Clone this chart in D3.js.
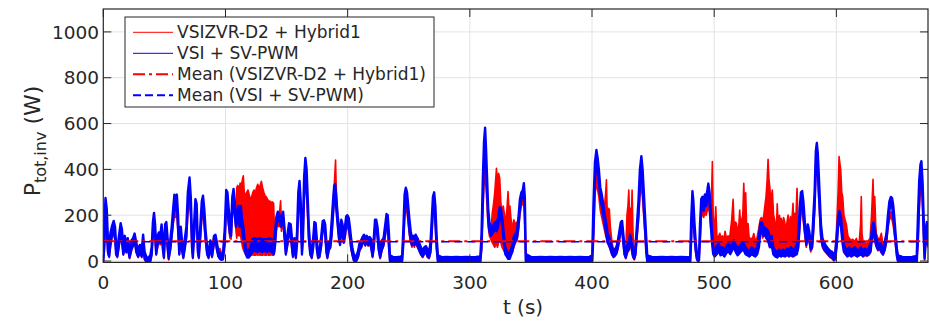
<!DOCTYPE html>
<html><head><meta charset="utf-8">
<script src="https://cdn.jsdelivr.net/npm/d3@7/dist/d3.min.js"></script>
<style>body{margin:0;background:#fff}svg{display:block}text{font-family:"DejaVu Sans",sans-serif;fill:#262626}</style>
</head><body><svg id="c" width="930" height="321"></svg>
<script>
// ---- data ----
const xTicks = [0,100,200,300,400,500,600];
const yTicks = [0,200,400,600,800,1000];
const seriesNames = ["VSIZVR-D2 + Hybrid1","VSI + SV-PWM","Mean (VSIZVR-D2 + Hybrid1)","Mean (VSI + SV-PWM)"];
const meanRed = 86, meanBlue = 84;
// [t (s), low envelope (W), high envelope (W)]
const blueSeries = [
[0,0,30],[0.8,60,150],[1.8,200,275],[2.8,150,230],[3.8,40,90],[4.8,20,60],[5.8,70,120],[7,110,150],[8.5,140,175],[9.6,100,150],[10.5,30,70],[11.5,20,50],[12.8,70,110],[14.2,130,165],[15.2,90,140],[16.4,30,60],[17.6,70,110],[18.8,40,70],[20,60,100],[21.5,15,40],[23,50,90],[24.4,70,100],[25.6,95,120],[27,40,80],[28.5,20,50],[30,40,70],[31.5,20,50],[32.6,85,115],[33.8,10,40],[35.5,-2,15],[37,-3,15],[38.5,0,25],[39.6,30,60],[40.6,120,170],[41.5,180,210],[42.4,110,160],[43.3,30,60],[44.4,70,110],[45.5,100,125],[46.6,80,110],[47.7,130,160],[48.8,50,90],[49.6,15,40],[50.6,120,160],[51.6,135,170],[52.6,60,100],[53.5,10,40],[54.8,50,90],[56,110,150],[57.2,180,230],[58.2,250,290],[59.2,220,270],[60.2,250,290],[61.2,140,200],[62.2,30,60],[63.4,110,150],[64.4,50,90],[65.5,15,40],[66.8,60,100],[68,110,150],[69.2,250,300],[70.6,320,365],[71.6,230,280],[72.6,60,110],[73.3,15,40],[74.4,120,170],[75.4,230,270],[76.4,200,250],[77.4,40,80],[78.2,15,40],[79.4,110,150],[80.6,220,260],[81.6,250,285],[82.6,180,230],[83.8,90,130],[85,30,60],[86.2,15,40],[87.6,60,90],[89,20,50],[90.6,80,110],[91.8,95,115],[93,50,80],[94.2,20,40],[95.4,10,35],[96.8,5,25],[98,10,35],[99.4,80,140],[100.6,260,310],[101.6,240,300],[102.6,170,230],[103.6,120,170],[104.6,110,150],[105.6,230,280],[106.6,280,315],[107.6,200,260],[108.6,150,190],[109.6,170,210],[110.6,200,240],[111.6,150,200],
[112.6,180,240],[113.6,130,180],[114.6,100,150],[115.6,60,100],[116.6,30,60],[117.8,15,40],[119,15,45],[120.5,25,60],[122,40,95],[124,45,100],[126,40,95],[128,45,100],[130,40,95],[132,45,95],[134,40,95],[136,45,100],[138,40,95],[139.6,30,80],[140.6,70,130],[141.6,150,190],[142.8,190,215],[144,180,205],[145.2,150,180],[146.4,170,200],[147.2,190,215],[148.2,110,150],[149.4,30,60],[150.6,70,110],[152,130,165],[153.4,120,160],[154.4,60,100],[155.2,20,45],[156.4,70,100],[157.6,15,40],[158.6,80,130],[159.6,250,300],[160.6,320,350],[161.6,200,260],[162.6,30,70],[163.4,100,160],[164.4,300,370],[165.4,410,450],[166.4,330,400],[167.2,240,290],[168.2,100,150],[169.4,30,60],[170.6,15,40],[171.8,60,100],[172.8,140,170],[173.8,130,165],[174.8,50,90],[175.8,15,35],[177,20,45],[178.4,70,110],[179.6,150,175],[180.6,155,178],[181.6,120,160],[182.6,40,80],[183.4,15,40],[184.6,50,80],[185.8,60,90],[187,120,180],[188,200,260],[189,290,330],[189.8,300,335],[190.8,220,270],[191.8,160,200],[192.8,100,150],[193.8,70,110],[194.8,140,180],[195.8,120,160],[196.8,80,110],[197.8,110,150],[198.8,160,195],[199.8,170,200],[200.8,150,190],[201.8,110,150],[202.8,60,100],[203.8,30,60],[205,5,30],[206.2,-2,20],[207.4,5,25],[208.6,20,45],[209.8,50,80],[211,60,90],[212.2,80,105],[213.4,95,115],[214.4,70,100],[215.6,90,110],[216.8,70,100],[218,85,105],[219.2,60,95],[220.4,20,45],[221.4,60,100],[222.4,140,180],[223.4,150,180],[224.4,110,150],[225.4,50,90],[226.6,15,40],[228,50,90],[229.4,70,100],[230.8,120,160],[231.8,170,205],[232.8,160,200],[233.8,60,120],[234.6,0,25],
[237,-2,18],[240,-3,17],[243,-2,19],[244.6,0,22],[245.6,80,140],[246.6,220,290],[247.6,290,320],[248.6,250,300],[249.6,190,240],[250.6,130,180],[251.6,90,130],[252.6,70,100],[253.6,85,110],[254.6,70,100],[255.6,90,115],[256.6,75,105],[257.6,60,95],[258.8,45,75],[260,30,60],[261.4,20,45],[262.8,35,60],[264,40,65],[265.4,20,50],[266.6,15,40],[267.8,40,80],[268.8,120,180],[269.8,240,280],[270.8,270,300],[271.8,170,240],[272.8,60,110],[273.8,0,25],
[277,-2,17],[281,-3,18],[285,-2,17],[289,-3,18],[293,-2,17],[297,-3,18],[301,-2,17],[305,-3,18],[308.6,-2,20],[309.6,60,120],[310.6,250,350],[311.6,450,520],[312.5,540,582],[313.2,420,500],[314,320,380],[315,180,230],[316,130,170],[317.2,110,145],[318.4,120,150],[319.6,130,160],[320.8,140,170],[322,130,170],[323.2,150,190],[324.4,200,235],[325.4,190,230],[326.6,150,185],[327.8,80,120],[329,30,60],[330.2,20,45],[331.4,10,35],[332.6,10,30],[333.6,25,50],[334.8,40,70],[336,70,110],[337.4,90,120],[338.6,100,130],[339.8,150,190],[341,230,270],[342.2,270,300],[343.4,280,310],[344.2,310,340],[345,200,280],[345.8,0,30],
[350,-2,18],[354,-3,17],[358,-2,18],[362,-3,17],[366,-2,18],[370,-3,17],[374,-2,18],[378,-3,17],[382,-2,18],[386,-3,17],[390,-2,18],[394,-3,17],[398,-2,18],[400.2,0,25],[401.2,120,250],[402.4,350,430],[403.6,440,485],[404.6,400,450],[405.6,350,400],[406.8,270,320],[408,240,290],[409.2,200,250],[410.4,160,200],[411.6,120,165],[412.8,80,120],[414,70,105],[415.2,50,85],[416.4,30,60],[417.6,20,45],[418.8,25,50],[420,35,60],[421.2,60,90],[422.4,100,130],[423.6,140,170],[424.6,145,175],[425.6,80,120],[426.6,30,60],[427.6,15,35],[428.8,40,70],[430,50,80],[431.2,90,115],[432.4,60,90],[433.6,20,45],[434.6,10,30],[435.6,30,60],[436.8,120,160],[438,200,260],[439.2,330,400],[440.4,420,458],[441.4,330,400],[442.4,230,300],[443.4,140,200],[444.4,40,100],[445.2,0,25],
[449,-2,18],[453,-3,17],[457,-2,18],[461,-3,17],[465,-2,18],[469,-3,17],[473,-2,18],[477,-3,17],[480.4,-2,18],[481.2,100,180],[482.2,270,305],[483,200,260],[483.8,120,170],[484.8,50,90],[485.8,10,35],[486.8,0,20],[487.6,5,30],[488.4,100,160],[489.4,230,270],[490.4,250,280],[491.4,220,260],[492.4,250,290],[493.4,240,280],[494.4,270,310],[495.2,300,338],[496.2,250,300],[497.2,160,220],[498.2,80,130],[499.2,30,60],[500.4,20,50],[502,30,65],[503.6,45,75],[505.2,25,55],[506.8,30,60],[508.4,20,50],[510,35,65],[511.6,45,75],[513.2,30,60],[514.8,50,80],[516.2,60,92],[517.6,40,70],[519.2,25,55],[520.8,35,65],[522.4,45,75],[524,50,80],[525.6,30,60],[527.2,25,50],[528.8,20,45],[530.4,30,60],[532,25,55],[533.6,20,45],[535.2,30,60],[536.6,60,110],[537.8,130,165],[539,140,170],[540.2,110,150],[541.4,120,145],[542.8,100,140],[544.2,90,130],[545.6,60,100],[547,70,110],[548.4,30,60],[550,20,45],[551.6,15,40],[553.2,25,50],[554.8,20,45],[556.4,25,50],[558,20,45],[559.6,30,55],[561.2,20,50],[562.8,30,60],[564.4,20,50],[566,25,55],[567.6,30,70],[568.8,60,110],[570,160,230],[571,260,300],[572,270,305],[573,200,260],[574.2,130,170],[575.4,70,100],[576.6,130,160],[577.8,100,130],[579,50,80],[580.2,60,100],[581.2,140,200],[582.2,240,300],[583.2,400,480],[584,470,515],[584.8,400,470],[585.6,300,380],[586.4,220,280],[587.4,110,160],[588.6,70,100],[590,50,80],[591.6,40,65],[593.2,30,55],[594.8,20,45],[596.4,15,40],[598,5,30],[599,10,35],[600.2,60,100],[601.4,150,190],[602.6,185,218],[603.8,150,190],[605,80,120],[606.2,40,70],[607.6,30,55],[609,20,50],[610.6,30,60],[612.2,20,45],[613.8,25,55],[615.4,30,60],[617,20,45],[618.6,25,50],[620.2,30,60],[621.8,20,45],[623.4,30,55],[625,25,50],[626.6,30,55],[628,40,80],[629.4,120,150],[630.4,140,168],[631.4,100,140],[632.6,70,100],[634,50,85],[635.4,60,90],[636.8,40,70],[638.2,30,55],[639.6,50,80],[641,90,120],[642.2,160,200],[643.4,220,260],[644.6,250,280],[645.6,240,275],[646.6,190,240],[647.6,140,180],[648.6,70,110],[649.6,20,50],[650.4,0,25],
[654,-2,18],[658,-3,17],[662,-2,18],[665.8,-2,22],[666.8,100,200],[667.8,270,350],[668.8,380,420],[669.6,400,436],[670.6,280,340],[671.4,120,200],[672.2,10,40],[673.2,90,140],[674,140,170],[675,70,110]
];
const redSeries = [
[0,-5,20],[0.8,50,120],[1.8,170,230],[2.8,120,190],[3.8,30,80],[4.8,15,50],[5.8,60,100],[7,100,130],[8.5,120,150],[9.6,90,130],[10.5,25,60],[11.5,15,45],[12.8,60,95],[14.2,110,140],[15.2,80,120],[16.4,25,55],[17.6,60,95],[18.8,35,65],[20,55,90],[21.5,10,35],[23,45,80],[24.4,65,95],[25.6,85,110],[27,35,70],[28.5,15,45],[30,35,65],[31.5,15,45],[32.6,75,100],[33.8,5,35],[35.5,-10,10],[37,-10,10],[38.5,-5,20],[39.6,25,55],[40.6,100,150],[41.5,150,185],[42.4,90,140],[43.3,25,55],[44.4,60,100],[45.5,90,115],[46.6,70,100],[47.7,110,140],[48.8,45,80],[49.6,10,35],[50.6,100,140],[51.6,115,150],[52.6,50,90],[53.5,5,35],[54.8,45,80],[56,100,135],[57.2,160,200],[58.2,200,230],[59.2,190,225],[60.2,200,230],[61.2,120,170],[62.2,25,55],[63.4,95,130],[64.4,45,80],[65.5,10,35],[66.8,55,90],[68,95,130],[69.2,200,250],[70.6,260,300],[71.6,190,240],[72.6,50,100],[73.3,10,35],[74.4,100,150],[75.4,190,230],[76.4,170,210],[77.4,35,70],[78.2,10,35],[79.4,95,130],[80.6,180,220],[81.6,210,240],[82.6,150,200],[83.8,80,115],[85,25,55],[86.2,10,35],[87.6,55,85],[89,15,45],[90.6,70,100],[91.8,85,105],[93,45,75],[94.2,20,45],[95.4,30,55],[96.8,10,35],[98,5,30],[99.4,70,120],[100.6,220,270],[101.6,200,260],[102.6,150,200],[103.6,100,150],[104.6,95,130],[105.6,200,250],[106.6,250,290],[107.6,190,240],[108.6,130,180],
[109.2,100,320],[110,120,330],[111,110,310],[112,120,340],[113,90,330],[114,60,360],[114.6,50,372],[115.4,40,300],[116.4,30,285],[117.4,25,300],[118.4,25,310],[119.4,25,290],[120.4,25,270],[121.4,25,280],[122.4,28,300],[123.4,25,310],[124.4,25,295],[125.4,28,320],[126.4,25,335],[127.4,28,320],[128.4,25,330],[129.4,25,348],[130.4,25,320],[131.4,28,300],[132.4,25,285],[133.4,25,280],[134.4,28,270],[135.4,25,260],[136.4,25,262],[137.4,28,255],[138.4,25,258],[139.4,25,252],[140.2,40,120],[141.2,120,170],[142.4,160,200],[143.6,150,195],[144.6,160,230],[145.1,200,263],[145.8,130,170],[146.8,150,190],[147.6,150,190],[148.4,90,130],[149.4,25,55],[150.6,60,100],[152,110,150],[153.4,100,145],[154.4,50,90],[155.2,15,40],[156.4,60,95],[157.6,10,35],[158.6,70,115],[159.6,210,260],[160.6,270,310],[161.6,170,230],[162.6,25,60],[163.4,90,140],[164.4,260,320],[165.4,340,390],[166.4,290,350],[167.2,200,250],[168.2,90,140],[169.4,25,55],[170.6,10,35],[171.8,55,90],[172.8,120,150],[173.8,110,145],[174.8,45,85],[175.8,10,30],[177,15,40],[178.4,60,100],[179.6,130,160],[180.6,135,165],[181.6,100,145],[182.6,35,75],[183.4,10,35],[184.6,45,75],[185.8,55,85],[187,110,170],[188,190,250],[189,260,330],[189.7,330,400],[190.1,380,441],[190.6,250,330],[191.4,180,230],[192.4,120,160],[193.4,80,120],[194.6,120,160],[195.8,100,140],[196.9,90,140],[197.8,100,135],[198.8,140,175],[199.8,150,180],[200.8,130,170],[201.8,95,135],[202.8,50,90],[203.8,25,55],[205,0,25],[206.2,-8,15],[207.4,0,20],[208.6,15,40],[209.8,45,75],[211,55,85],[212.2,70,100],[213.4,85,110],[214.4,65,95],[215.6,80,105],[216.8,65,95],[218,75,100],[219.2,55,90],[220.4,15,40],[221.4,55,95],[222.4,125,165],[223.4,135,165],[224.4,100,140],[225.4,45,85],[226.6,10,35],[228,45,85],[229.4,65,95],[230.8,110,150],[231.8,150,185],[232.8,140,180],[233.8,50,110],[234.6,-5,20],
[237,-8,14],[240,-9,13],[243,-8,14],[244.6,-5,18],[245.6,70,120],[246.6,180,240],[247.6,240,270],[248.6,210,250],[249.6,160,200],[250.6,110,160],[251.6,80,120],[252.6,60,95],[253.6,75,100],[254.6,60,95],[255.6,80,105],[256.6,65,100],[257.6,55,90],[258.8,40,70],[260,25,55],[261.4,15,40],[262.8,30,55],[264,35,60],[265.4,15,45],[266.6,10,35],[267.8,35,75],[268.8,100,160],[269.8,200,240],[270.8,230,260],[271.8,150,210],[272.8,50,100],[273.8,-5,20],
[277,-8,14],[281,-9,13],[285,-8,14],[289,-9,13],[293,-8,14],[297,-9,13],[301,-8,14],[305,-9,13],[308.6,-8,16],[309.6,50,100],[310.6,200,290],[311.6,330,390],[312.5,370,412],[313.2,320,380],[314,250,300],[315,150,200],[316,110,150],[317.2,95,130],[318.4,80,210],[319.4,70,250],[320.4,60,300],[321.2,70,360],[321.8,80,405],[322.6,60,330],[323.5,80,383],[324.5,100,360],[325.4,80,250],[326.4,60,220],[327.4,50,240],[328.4,40,200],[329.4,30,170],[330.4,25,230],[331.3,20,303],[332.2,20,200],[332.8,25,240],[333.8,30,180],[334.8,40,140],[336,60,180],[337.4,80,160],[338.6,90,170],[339.8,130,180],[341,200,250],[342.2,240,280],[343.4,250,290],[344.2,270,310],[345,150,250],[345.8,-5,20],
[350,-8,14],[354,-9,13],[358,-8,14],[362,-9,13],[366,-8,14],[370,-9,13],[374,-8,14],[378,-9,13],[382,-8,14],[386,-9,13],[390,-8,14],[394,-9,13],[398,-8,14],[400.2,-5,20],[401.2,100,220],[402.4,290,360],[403.6,340,380],[404.6,310,350],[405.6,280,320],[406.8,220,270],[408,190,240],[409.2,160,210],[410.4,130,250],[411.2,110,300],[411.8,100,354],[412.6,80,180],[413.4,70,230],[414.2,60,225],[415,50,150],[416.4,25,80],[417.6,15,50],[418.8,20,55],[420,30,65],[421.2,50,90],[422.4,90,125],[423.6,125,160],[424.6,130,165],[425.6,70,110],[426.6,25,55],[427.6,10,40],[428.6,30,200],[429.4,40,240],[430.1,45,310],[430.8,60,200],[431.6,70,230],[432.2,50,180],[432.8,30,310],[433.6,15,120],[434.6,5,40],[435.6,25,60],[436.8,100,150],[438,170,230],[439.2,280,340],[440.4,330,370],[441.4,270,330],[442.4,190,250],[443.4,110,170],[444.4,30,90],[445.2,-5,20],
[449,-8,14],[453,-9,13],[457,-8,14],[461,-9,13],[465,-8,14],[469,-9,13],[473,-8,14],[477,-9,13],[480.4,-8,14],[481.2,80,160],[482.2,220,270],[483,170,220],[483.8,100,150],[484.8,40,80],[485.8,5,30],[486.8,-5,15],[487.6,0,25],[488.4,80,140],[489.4,190,230],[490.4,210,240],[491.4,190,230],[492.4,210,250],[493.4,200,240],[494.4,220,260],[495.2,240,280],[496.2,210,250],[497.2,140,200],[497.9,150,300],[498.5,180,434],[499.2,40,200],[500.2,25,120],[501.3,25,237],[502.2,30,110],[503.4,40,106],[504.6,30,121],[505.6,30,100],[506.6,35,110],[507.8,25,95],[508.9,30,130],[510,35,100],[511.4,40,110],[512.6,35,100],[514.3,40,179],[515.5,50,269],[516.4,55,140],[517.4,45,170],[518.2,35,164],[519.2,30,120],[520.2,35,160],[520.9,40,223],[521.8,45,140],[522.6,45,180],[523.4,50,200],[524.2,50,339],[525,45,220],[525.8,40,298],[526.6,30,140],[527.7,30,164],[528.8,20,90],[530,30,100],[531.2,25,95],[532.4,25,120],[533.6,20,90],[535,30,100],[536.4,60,140],[537.6,120,180],[538.6,130,190],[539.6,100,170],[540.6,110,200],[541.4,110,237],[542.4,100,280],[543.3,90,350],[544.1,90,444],[544.8,70,360],[545.5,60,325],[546.4,60,260],[547.6,60,310],[548.6,30,200],[549.5,25,180],[550.9,20,135],[551.6,20,250],[552.3,20,158],[553.4,25,200],[554.2,20,170],[555,20,186],[556,25,140],[556.8,20,190],[557.7,25,172],[558.6,20,130],[559.6,25,170],[560.5,25,201],[561.4,20,140],[562.4,25,194],[563.4,20,160],[564.5,25,252],[565.2,20,150],[565.9,25,208],[566.8,30,180],[567.8,40,317],[568.8,50,150],[569.5,100,150],[570,140,200],[571,210,250],[572,220,255],[573,170,220],[574.2,110,150],[575.4,60,90],[576.6,110,140],[577.8,85,115],[579,40,70],[580.2,55,90],[581.2,120,180],[582.2,220,280],[583.2,380,460],[584,460,517],[584.8,380,450],[585.6,270,350],[586.4,190,250],[587.4,95,140],[588.6,60,90],[590,45,75],[591.6,35,60],[593.2,25,50],[594.8,15,40],[596.4,10,35],[598,0,25],[599,5,30],[600.2,60,150],[601.4,150,300],[602.2,180,456],[602.8,170,430],[603.6,150,397],[604.4,120,300],[605.2,80,281],[606.2,40,200],[607.2,30,179],[608.2,25,160],[609.4,20,110],[610.6,25,100],[612,20,90],[613.4,25,95],[614.8,25,85],[616.4,20,99],[617.6,20,70],[618.8,25,90],[619.8,25,160],[620.4,30,281],[621,25,120],[622.2,20,70],[623.6,25,80],[625,20,75],[626.4,25,90],[627.6,35,100],[628.8,80,200],[630,110,357],[630.8,100,200],[631.4,90,281],[632.2,70,160],[632.7,60,121],[634,45,100],[635.4,50,95],[636.8,35,121],[638.2,25,70],[639.6,45,90],[641,80,120],[642.2,140,180],[643.4,180,210],[644.6,190,215],[645.6,180,210],[646.6,150,200],[647.6,110,150],[648.6,60,100],[649.6,15,45],[650.4,-5,20],
[654,-8,14],[658,-9,13],[662,-8,14],[665.8,-8,18],[666.8,80,170],[667.8,220,290],[668.8,300,350],[669.6,330,370],[670.6,230,290],[671.4,100,170],[672.2,5,35],[673.2,80,130],[674,120,150],[675,60,100]
];

// ---- drawing ----
const svg = d3.select("#c");
const L = 103.3, R = 928, T = 9, B = 262.4;
const x = d3.scaleLinear().domain([0, 675]).range([L, R]);
const y = d3.scaleLinear().domain([-6, 1100]).range([B, T]);
const RED = "#ff0000", BLUE = "#0000ff", AX = "#262626";

svg.append("defs").append("clipPath").attr("id","clip")
  .append("rect").attr("x",L).attr("y",T).attr("width",R-L).attr("height",B-T);

// grid
const g = svg.append("g");
g.selectAll(".gx").data(xTicks.filter(d=>d>0)).join("line")
  .attr("x1",d=>x(d)).attr("x2",d=>x(d)).attr("y1",T).attr("y2",B)
  .attr("stroke","#e3e3e3").attr("stroke-width",1);
g.selectAll(".gy").data(yTicks).join("line")
  .attr("x1",L).attr("x2",R).attr("y1",d=>y(d)).attr("y2",d=>y(d))
  .attr("stroke","#e3e3e3").attr("stroke-width",1);

const area = d3.area().x(d=>x(d[0])).y0(d=>y(d[1])).y1(d=>y(d[2]));
const plot = svg.append("g").attr("clip-path","url(#clip)");
plot.append("path").attr("d",area(redSeries)).attr("fill",RED)
  .attr("stroke",RED).attr("stroke-width",1.6).attr("stroke-linejoin","round");
plot.append("path").attr("d",area(blueSeries)).attr("fill",BLUE)
  .attr("stroke",BLUE).attr("stroke-width",2.4).attr("stroke-linejoin","round");
plot.append("line").attr("x1",L).attr("x2",R).attr("y1",y(meanRed)).attr("y2",y(meanRed))
  .attr("stroke",RED).attr("stroke-width",2).attr("stroke-dasharray","12,4,3,4");
plot.append("line").attr("x1",L).attr("x2",R).attr("y1",y(meanBlue)).attr("y2",y(meanBlue))
  .attr("stroke",BLUE).attr("stroke-width",1.6).attr("stroke-dasharray","8,5");

// axes box
svg.append("rect").attr("x",L).attr("y",T).attr("width",R-L).attr("height",B-T)
  .attr("fill","none").attr("stroke",AX).attr("stroke-width",1.2);
const tl = 8;
const ax = svg.append("g");
xTicks.forEach(d=>{
  ax.append("line").attr("x1",x(d)).attr("x2",x(d)).attr("y1",B).attr("y2",B-tl).attr("stroke",AX);
  ax.append("line").attr("x1",x(d)).attr("x2",x(d)).attr("y1",T).attr("y2",T+tl).attr("stroke",AX);
  ax.append("text").attr("x",x(d)).attr("y",289).attr("text-anchor","middle")
    .attr("font-size","18.5px").text(d);
});
yTicks.forEach(d=>{
  ax.append("line").attr("x1",L).attr("x2",L+tl).attr("y1",y(d)).attr("y2",y(d)).attr("stroke",AX);
  ax.append("line").attr("x1",R).attr("x2",R-tl).attr("y1",y(d)).attr("y2",y(d)).attr("stroke",AX);
  ax.append("text").attr("x",99).attr("y",y(d)).attr("dy","0.36em").attr("text-anchor","end")
    .attr("font-size","18.5px").text(d);
});
// axis labels
svg.append("text").attr("x",523).attr("y",314).attr("text-anchor","middle")
  .attr("font-size","20px").text("t (s)");
const yl = svg.append("text").attr("transform","translate(40,141) rotate(-90)")
  .attr("text-anchor","middle").attr("font-size","22px");
yl.append("tspan").text("P");
yl.append("tspan").attr("font-size","16px").attr("dy","6").text("tot,inv");
yl.append("tspan").attr("dy","-6").text(" (W)");

// legend
const lg = svg.append("g");
lg.append("rect").attr("x",125).attr("y",17).attr("width",309).attr("height",90)
  .attr("fill","#fff").attr("stroke",AX).attr("stroke-width",1);
const rows = [
  {c:RED, w:1, dash:null},
  {c:BLUE, w:1, dash:null},
  {c:RED, w:2, dash:"12,4,3,4"},
  {c:BLUE, w:2, dash:"8,4"}
];
rows.forEach((r,i)=>{
  const yy = 32.3 + i*21;
  const ln = lg.append("line").attr("x1",133).attr("x2",173).attr("y1",yy).attr("y2",yy)
    .attr("stroke",r.c).attr("stroke-width",r.w);
  if (r.dash) ln.attr("stroke-dasharray",r.dash);
  lg.append("text").attr("x",177).attr("y",yy).attr("dy","0.36em").attr("font-size","17px")
    .text(seriesNames[i]);
});
</script></body></html>
